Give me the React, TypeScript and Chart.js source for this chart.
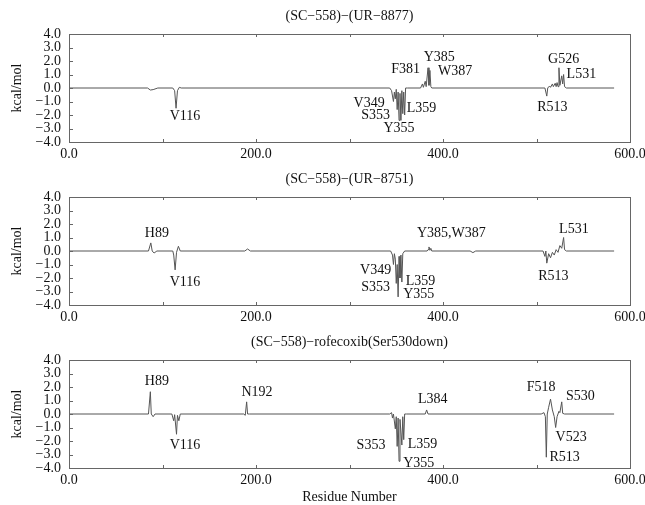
import React, { useEffect, useRef } from "react";
import { Chart, registerables } from "chart.js";

Chart.register(...registerables);

// ---------- data ----------
const panelTitles = [
  "(SC−558)−(UR−8877)",
  "(SC−558)−(UR−8751)",
  "(SC−558)−rofecoxib(Ser530down)",
];
const yAxisTitle = "kcal/mol";
const xAxisTitle = "Residue Number";
const xTickValues = [0, 200, 400, 600];
const xMinorTicks = [100, 200, 300, 400, 500];
const yTickValues = [-4, -3, -2, -1, 0, 1, 2, 3, 4];

// Panel 1: (SC-558)-(UR-8877)
const residues1 = [0, 84, 87, 90, 95, 111, 113, 114.5, 116, 118, 120,
  343, 345, 347, 348, 349, 350, 351, 352, 353, 354, 355, 356, 357, 358, 359, 360, 362,
  376, 378, 379, 381, 382, 384, 385, 386, 387, 388,
  509, 511, 512, 514, 515, 517, 518, 520, 521, 522, 523, 524, 525, 527, 528, 529, 530, 532, 583];
const energies1 = [0, 0, -0.15, -0.12, 0, 0, -0.2, -1.5, -0.2, 0.05, 0,
  0, -0.2, -1.0, -0.3, -0.8, -0.1, -1.6, -0.3, -2.4, -0.4, -2.4, -0.2, -1.9, -0.3, -2.0, 0, 0,
  0, 0.3, 0.05, 0.5, 0.1, 1.5, 0.2, 1.3, 0.1, 0,
  0, -0.6, 0, 0.15, 0.05, 0.3, 0.1, 0.35, 0.1, 0.4, 0.1, 1.5, 0.2, 0.9, 0.3, 1.0, 0.1, 0, 0];

// Panel 2: (SC-558)-(UR-8751)
const residues2 = [0, 85, 87.5, 89, 91, 94, 111, 112, 113.5, 115, 117, 119,
  188, 191, 194,
  344, 346, 347, 348, 349, 350, 351, 352, 353, 354, 355, 356, 357, 359,
  383, 384, 385, 386, 387, 388,
  429, 432, 435,
  507, 509, 510, 511, 513, 515, 517, 519, 521, 523, 525, 527, 529, 530, 532, 583];
const energies2 = [0, 0, 0.6, 0, -0.15, 0, 0, -0.3, -1.4, -0.1, 0.35, 0,
  0, 0.15, 0,
  0, -0.3, -1.0, -0.2, -0.6, -2.4, -1.0, -3.4, -0.4, -2.0, -0.3, -2.3, -0.2, 0,
  0, 0.1, 0.3, 0.05, 0.2, 0,
  0, -0.12, 0,
  0, -0.4, 0, -0.9, -0.2, -0.5, -0.1, -0.3, 0.1, -0.1, 0.4, 0.2, 1.0, 0.1, 0, 0];

// Panel 3: (SC-558)-rofecoxib(Ser530down)
const residues3 = [0, 85, 87, 88, 90, 92, 110, 112, 113, 115, 116, 117.5, 119,
  187, 188.5, 190, 191, 193,
  343, 345, 346, 347, 349, 350, 351, 352, 353, 354, 356, 357, 358, 359, 361,
  381, 382.5, 384,
  505, 508, 509.5, 510.5, 511.5, 513, 515, 517, 519, 520.5, 522, 524, 525, 527, 528, 530, 583];
const energies3 = [0, 0, 1.65, 0, -0.2, 0, 0, -0.5, -0.05, -1.5, -0.1, -0.5, 0,
  0, -0.1, 0.9, 0, 0,
  0, 0.1, -0.3, 0, -1.1, -0.2, -2.4, -0.3, -3.5, -0.4, -2.3, -0.2, -1.9, 0, 0,
  0, 0.3, 0,
  0, 0.1, -0.2, -3.2, 0, 0.5, 1.1, 0.3, -0.2, -1.0, -0.2, 0.2, 0.1, 0.9, 0.05, 0, 0];

// residue labels (text, anchor residue, anchor kcal/mol)
const labels1 = ["V116", "V349", "S353", "Y355", "L359", "F381", "Y385", "W387", "R513", "G526", "L531"];
const labelRes1 = [124, 321, 328, 353, 377, 360, 396, 413, 517, 529, 548];
const labelVal1 = [-2.1, -1.1, -2.05, -3.0, -1.5, 1.35, 2.25, 1.2, -1.45, 2.1, 1.0];

const labels2 = ["H89", "V116", "V349", "S353", "L359", "Y355", "Y385,W387", "R513", "L531"];
const labelRes2 = [94, 124, 328, 328, 376, 374, 409, 518, 540];
const labelVal2 = [1.3, -2.35, -1.45, -2.7, -2.25, -3.2, 1.3, -1.9, 1.6];

const labels3 = ["H89", "V116", "N192", "S353", "L359", "Y355", "L384", "F518", "S530", "V523", "R513"];
const labelRes3 = [94, 124, 201, 323, 378, 374, 389, 505, 547, 537, 530];
const labelVal3 = [2.4, -2.35, 1.6, -2.35, -2.25, -3.65, 1.05, 1.95, 1.3, -1.75, -3.2];

const panels = [
  { title: panelTitles[0], residues: residues1, energies: energies1, labels: labels1, labelRes: labelRes1, labelVal: labelVal1, xTitle: false },
  { title: panelTitles[1], residues: residues2, energies: energies2, labels: labels2, labelRes: labelRes2, labelVal: labelVal2, xTitle: false },
  { title: panelTitles[2], residues: residues3, energies: energies3, labels: labels3, labelRes: labelRes3, labelVal: labelVal3, xTitle: true },
];

// ---------- layout constants ----------
const W = 645;
const PANEL_STEP = 163;
const AREA_LEFT = 69;
const AREA_RIGHT = 630;
const AREA_TOP = 34;
const AREA_BOTTOM = 142;
const FONT = "'Liberation Serif', 'Times New Roman', serif";
const TEXT_COLOR = "#111";

function fmt(v: number) {
  const s = Math.abs(v).toFixed(1);
  return v < 0 ? "−" + s : s;
}

function Panel({ index }: { index: number }) {
  const ref = useRef<HTMLCanvasElement | null>(null);
  const p = panels[index];
  const H = index === 2 ? 505 - PANEL_STEP * 2 : PANEL_STEP;

  useEffect(() => {
    const canvas = ref.current;
    if (!canvas) return;

    const decor = {
      id: "decor" + index,
      afterDraw(chart: any) {
        const ctx = chart.ctx;
        const a = chart.chartArea;
        const xs = chart.scales.x;
        const ys = chart.scales.y;
        ctx.save();
        // frame
        ctx.strokeStyle = "#666";
        ctx.lineWidth = 1;
        ctx.strokeRect(Math.round(a.left) + 0.5, Math.round(a.top) + 0.5, Math.round(a.right - a.left), Math.round(a.bottom - a.top));
        // inner ticks
        ctx.beginPath();
        yTickValues.forEach((v) => {
          const y = Math.round(ys.getPixelForValue(v)) + 0.5;
          ctx.moveTo(a.left, y);
          ctx.lineTo(a.left + 4, y);
        });
        xMinorTicks.forEach((v) => {
          const x = Math.round(xs.getPixelForValue(v)) + 0.5;
          ctx.moveTo(x, a.top);
          ctx.lineTo(x, a.top + 3);
          ctx.moveTo(x, a.bottom);
          ctx.lineTo(x, a.bottom - 3);
        });
        ctx.stroke();
        // title
        ctx.fillStyle = TEXT_COLOR;
        ctx.font = "14px " + FONT;
        ctx.textAlign = "center";
        ctx.textBaseline = "middle";
        ctx.fillText(p.title, (a.left + a.right) / 2, a.top - 18);
        // y axis title
        ctx.save();
        ctx.translate(17, (a.top + a.bottom) / 2);
        ctx.rotate(-Math.PI / 2);
        ctx.fillText(yAxisTitle, 0, 0);
        ctx.restore();
        // x axis title
        if (p.xTitle) {
          ctx.fillText(xAxisTitle, (a.left + a.right) / 2, a.bottom + 29);
        }
        // residue labels
        p.labels.forEach((t, i) => {
          ctx.fillText(t, xs.getPixelForValue(p.labelRes[i]), ys.getPixelForValue(p.labelVal[i]));
        });
        ctx.restore();
      },
    };

    const chart = new Chart(canvas, {
      type: "line",
      data: {
        datasets: [
          {
            data: p.residues.map((r, i) => ({ x: r, y: p.energies[i] })),
            borderColor: "#555",
            borderWidth: 1,
            pointRadius: 0,
            tension: 0,
            fill: false,
          },
        ],
      },
      options: {
        animation: false,
        responsive: false,
        maintainAspectRatio: false,
        layout: { padding: { left: 0, right: W - AREA_RIGHT, top: AREA_TOP, bottom: 0 } },
        plugins: {
          legend: { display: false },
          tooltip: { enabled: false },
          title: { display: false },
        },
        scales: {
          x: {
            type: "linear",
            min: 0,
            max: 600,
            afterBuildTicks: (s: any) => {
              s.ticks = xTickValues.map((v) => ({ value: v }));
            },
            afterFit: (s: any) => {
              s.height = H - AREA_BOTTOM;
              s.paddingLeft = 0;
              s.paddingRight = 0;
            },
            ticks: {
              callback: (v: any) => fmt(Number(v)),
              font: { family: FONT, size: 14 },
              color: TEXT_COLOR,
              padding: 4,
              maxRotation: 0,
              autoSkip: false,
            },
            grid: { display: false, drawTicks: false },
            border: { display: false },
          },
          y: {
            type: "linear",
            min: -4,
            max: 4,
            afterBuildTicks: (s: any) => {
              s.ticks = yTickValues.map((v) => ({ value: v }));
            },
            afterFit: (s: any) => {
              s.width = AREA_LEFT;
              s.paddingTop = 0;
              s.paddingBottom = 0;
            },
            ticks: {
              callback: (v: any) => fmt(Number(v)),
              font: { family: FONT, size: 14 },
              color: TEXT_COLOR,
              padding: 8,
              autoSkip: false,
            },
            grid: { display: false, drawTicks: false },
            border: { display: false },
          },
        },
      },
      plugins: [decor],
    } as any);

    return () => chart.destroy();
  }, [index]);

  return (
    <canvas
      ref={ref}
      width={W}
      height={H}
      style={{ position: "absolute", left: 0, top: PANEL_STEP * index, width: W, height: H }}
    />
  );
}

export default function App() {
  return (
    <div style={{ position: "absolute", left: 0, top: 0, width: W, height: 505, background: "#fff" }}>
      <Panel index={0} />
      <Panel index={1} />
      <Panel index={2} />
    </div>
  );
}
